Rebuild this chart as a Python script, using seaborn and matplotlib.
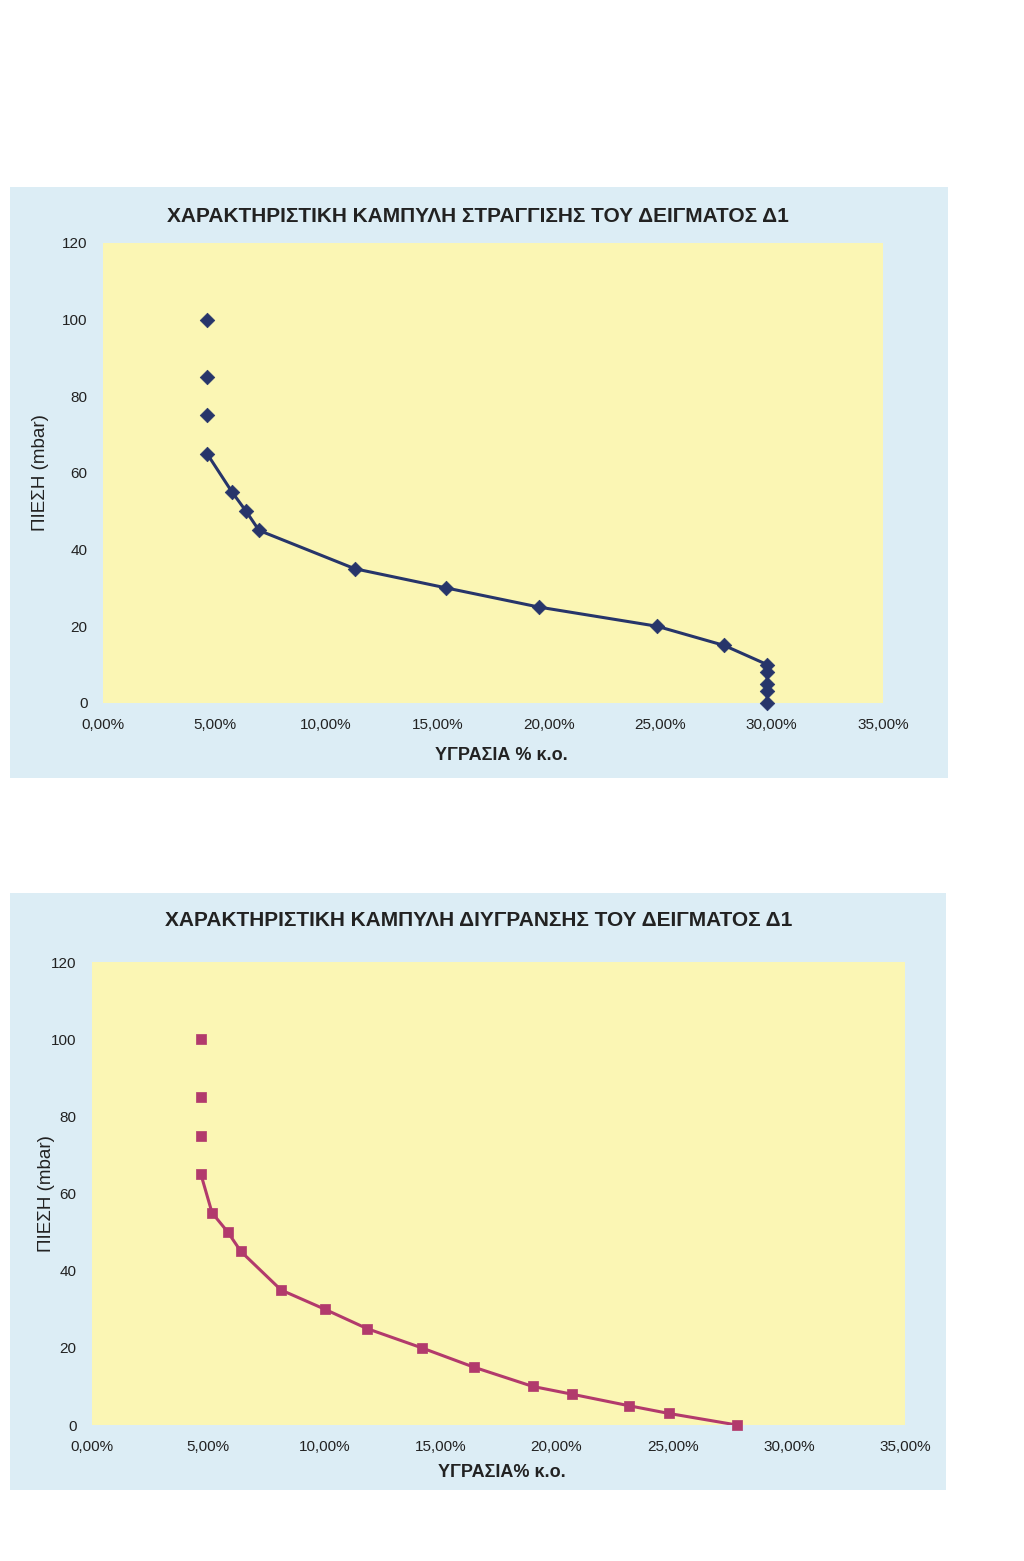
import matplotlib
matplotlib.use("Agg")
import matplotlib.pyplot as plt
import matplotlib.ticker as mticker
from matplotlib.patches import Rectangle
import seaborn as sns
import pandas as pd

# Pressure steps (mbar), same for both curves
pressure = [100, 85, 75, 65, 55, 50, 45, 35, 30, 25, 20, 15, 10, 8, 5, 3, 0]

# Drying curve moisture (fraction)
drying_moisture = [0.0467, 0.0467, 0.0467, 0.0467, 0.0579, 0.0642, 0.0700, 0.1130,
                   0.1540, 0.1956, 0.2486, 0.2787, 0.2980, 0.2980, 0.2980, 0.2980, 0.2980]

# Wetting curve moisture (fraction)
wetting_moisture = [0.0469, 0.0469, 0.0469, 0.0469, 0.0517, 0.0585, 0.0641, 0.0814,
                    0.1003, 0.1184, 0.1420, 0.1644, 0.1898, 0.2066, 0.2312, 0.2484, 0.2777]

titles = ["ΧΑΡΑΚΤΗΡΙΣΤΙΚΗ ΚΑΜΠΥΛΗ ΣΤΡΑΓΓΙΣΗΣ ΤΟΥ ΔΕΙΓΜΑΤΟΣ Δ1",
          "ΧΑΡΑΚΤΗΡΙΣΤΙΚΗ ΚΑΜΠΥΛΗ ΔΙΥΓΡΑΝΣΗΣ ΤΟΥ ΔΕΙΓΜΑΤΟΣ Δ1"]
xlabels = ["ΥΓΡΑΣΙΑ % κ.ο.", "ΥΓΡΑΣΙΑ% κ.ο."]
ylabel = "ΠΙΕΣΗ (mbar)"

sns.set_style("white")
plt.rcParams["font.family"] = ["Liberation Sans", "DejaVu Sans"]

fig = plt.figure(figsize=(10.24, 15.61), dpi=100)
fig.patch.set_facecolor("white")

panel_color = "#dcedf5"
plot_color = "#fbf6b4"

# panel rectangles (figure fraction) and axes positions
panels = [
    dict(panel=(0.0098, 0.5016, 0.916, 0.3786), ax=(0.1006, 0.5497, 0.7617, 0.2947),
         title_y=0.8616, xlabel_y=0.5163, ylabel_x=0.040,
         moisture=drying_moisture, line_color="#27356a", marker="D", msize=55),
    dict(panel=(0.0098, 0.0455, 0.914, 0.3824), ax=(0.0898, 0.0871, 0.7940, 0.2966),
         title_y=0.4100, xlabel_y=0.0570, ylabel_x=0.045,
         moisture=wetting_moisture, line_color="#b23a6c", marker="s", msize=60),
]

for i, p in enumerate(panels):
    fig.patches.append(Rectangle(p["panel"][:2], p["panel"][2], p["panel"][3],
                                 transform=fig.transFigure, facecolor=panel_color,
                                 edgecolor="none", zorder=-5))
    ax = fig.add_axes(p["ax"])
    ax.set_zorder(2)
    ax.set_facecolor(plot_color)

    df = pd.DataFrame({"moisture": p["moisture"], "pressure": pressure})
    line_df = df[df["pressure"] <= 65]
    sns.lineplot(data=line_df, x="moisture", y="pressure", sort=False, estimator=None,
                 ax=ax, color=p["line_color"], linewidth=2.2)
    sns.scatterplot(data=df, x="moisture", y="pressure", ax=ax, marker=p["marker"],
                    s=p["msize"], color=p["line_color"], edgecolor=p["line_color"],
                    linewidth=0.5, zorder=5, clip_on=False)

    ax.set_xlim(0, 0.35)
    ax.set_ylim(0, 120)
    ax.set_xticks([0, 0.05, 0.10, 0.15, 0.20, 0.25, 0.30, 0.35])
    ax.set_yticks([0, 20, 40, 60, 80, 100, 120])
    ax.xaxis.set_major_formatter(mticker.FuncFormatter(
        lambda v, pos: f"{v * 100:.2f}%".replace(".", ",")))
    ax.tick_params(axis="both", which="major", length=3, width=0.8, color="#888888",
                   labelsize=11, labelcolor="#222222", direction="out", pad=8)
    for s in ax.spines.values():
        s.set_visible(False)
    ax.set_xlabel("")
    ax.set_ylabel("")

    fig.text(0.467, p["title_y"], titles[i], ha="center", va="center",
             fontsize=15, fontweight="bold", color="#222222")
    fig.text(0.49, p["xlabel_y"], xlabels[i], ha="center", va="center",
             fontsize=13, fontweight="bold", color="#222222")
    fig.text(p["ylabel_x"], p["ax"][1] + p["ax"][3] / 2, ylabel, ha="center",
             va="center", rotation=90, fontsize=13.5, color="#222222")

fig.savefig("out.png", dpi=100, facecolor="white")
